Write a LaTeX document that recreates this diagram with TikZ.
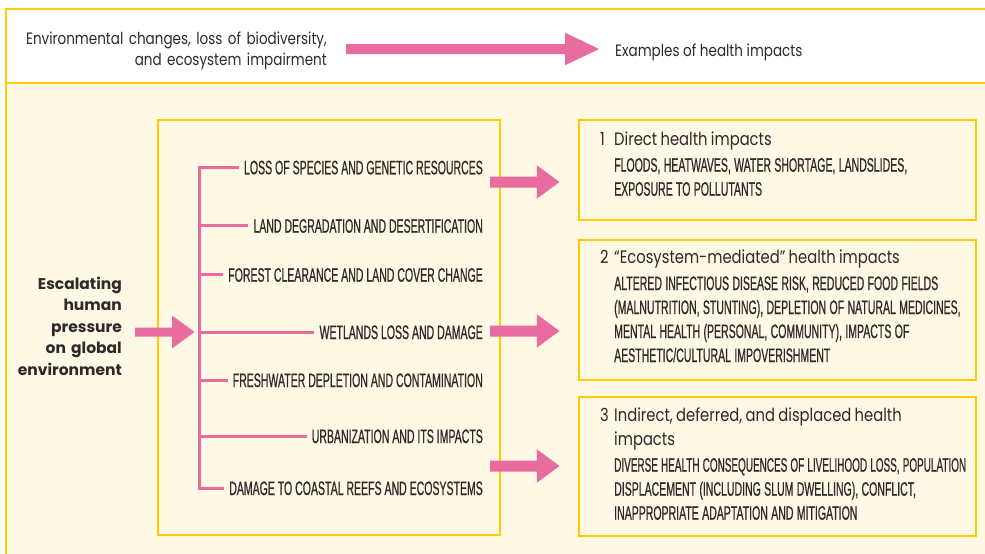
\documentclass[tikz,border=0pt]{standalone}
\usepackage{fontspec}
\setmainfont{Poppins}
\newfontfamily\capsf[FakeStretch=0.54,FakeBold=0.6]{Liberation Sans}
\newfontfamily\titlef[FakeStretch=0.82]{Poppins}
\newfontfamily\boldf[FakeStretch=1.0]{Poppins}
\usetikzlibrary{calc}
\definecolor{ybord}{RGB}{255,204,0}
\definecolor{cream}{RGB}{255,248,228}
\definecolor{pinkc}{RGB}{233,108,160}
\definecolor{txt}{RGB}{45,42,42}
\tikzset{
  frame/.style={draw=ybord, line width=2.2pt},
  hbox/.style={frame, fill=cream, anchor=north west, inner sep=0pt},
  branch/.style={draw=pinkc, line width=3pt},
  item/.style={anchor=east, inner xsep=5pt, inner ysep=0pt, text height=14pt, text depth=0pt,
    text=txt, font=\capsf\fontsize{19.5}{24}\selectfont},
  num/.style={anchor=base west, inner sep=0pt, text=txt, font=\titlef\fontsize{18}{23.3}\selectfont},
  content/.style={anchor=base west, inner sep=0pt, text width=440pt, align=left, text=txt},
  fatarrow/.style n args={3}{to path={let \p1=(\tikztostart), \p2=(\tikztotarget) in
    (\x1,{\y1+#1pt}) -- ({\x2-#2pt},{\y1+#1pt}) -- ({\x2-#2pt},{\y1+#3pt}) -- (\x2,\y1)
    -- ({\x2-#2pt},{\y1-#3pt}) -- ({\x2-#2pt},{\y1-#1pt}) -- (\x1,{\y1-#1pt}) -- cycle}}
}
\newcommand{\ttl}{\titlef\fontsize{18}{23.3}\selectfont}
\newcommand{\cps}{\capsf\fontsize{19.5}{24}\selectfont}
\begin{document}
\begin{tikzpicture}[x=1pt,y=-1pt]
\useasboundingbox (0,0) rectangle (985,554);
% panels
\draw[frame, fill=cream] (6,83) rectangle (995,570);
\draw[frame, fill=white] (6,9) rectangle (995,83);
% top legend
\node[anchor=base east, inner sep=0pt, text width=330pt, align=right, text=txt,
  font=\titlef\fontsize{16.5}{21}\selectfont] (envtext) at (327,44.3)
  {Environmental changes, loss of biodiversity,\\and ecosystem impairment};
\node[anchor=base west, inner sep=0pt, text=txt, font=\titlef\fontsize{16.5}{21}\selectfont]
  (examples) at (615,56) {Examples of health impacts};
\coordinate (topA) at (346,49);
\coordinate (topB) at (599,49);
\fill[pinkc] (topA) to[fatarrow={5}{34}{16.3}] (topB);
% middle box
\node[hbox, minimum width=342pt, minimum height=415pt] (mid) at (157,119) {};
\coordinate (spine) at (199,0);
\node[item] (i1) at (488,167.3) {LOSS OF SPECIES AND GENETIC RESOURCES};
\node[item] (i2) at (488,225.7) {LAND DEGRADATION AND DESERTIFICATION};
\node[item] (i3) at (488,274.7) {FOREST CLEARANCE AND LAND COVER CHANGE};
\node[item] (i4) at (488,332) {WETLANDS LOSS AND DAMAGE};
\node[item] (i5) at (488,380) {FRESHWATER DEPLETION AND CONTAMINATION};
\node[item] (i6) at (488,436) {URBANIZATION AND ITS IMPACTS};
\node[item] (i7) at (488,488) {DAMAGE TO COASTAL REEFS AND ECOSYSTEMS};
\draw[branch] (i1.west) -- (spine |- i1.west) -- (spine |- i7.west) -- (i7.west);
\foreach \k in {2,...,6} \draw[branch] (spine |- i\k.west) -- (i\k.west);
% left label
\node[anchor=base east, inner sep=0pt, text width=120pt, align=right, text=txt,
  font=\boldf\bfseries\fontsize{15.5}{21.5}\selectfont] (press) at (122,289)
  {Escalating\\human\\pressure\\on global\\environment};
\coordinate (leftA) at (135,332);
\coordinate (leftB) at (194.5,332);
\fill[pinkc] (leftA) to[fatarrow={4.5}{22.5}{16.5}] (leftB);
% right boxes
\node[hbox, minimum width=397pt, minimum height=100pt] (b1) at (578,119) {};
\node[hbox, minimum width=397pt, minimum height=140pt] (b2) at (578,239) {};
\node[hbox, minimum width=397pt, minimum height=139pt] (b3) at (578,396) {};
\node[num] (n1) at (600,145) {1};
\node[num] (n2) at (600,263.3) {2};
\node[num] (n3) at (600,421.7) {3};
\node[content] (t1) at (614,145) {{\ttl Direct health impacts\par}\vspace{2.7pt}%
  {\cps FLOODS, HEATWAVES, WATER SHORTAGE, LANDSLIDES,\\EXPOSURE TO POLLUTANTS\par}};
\node[content] (t2) at (614,263.3) {{\ttl “Ecosystem-mediated” health impacts\par}\vspace{2.7pt}%
  {\cps ALTERED INFECTIOUS DISEASE RISK, REDUCED FOOD FIELDS\\(MALNUTRITION, STUNTING), DEPLETION OF NATURAL MEDICINES,\\MENTAL HEALTH (PERSONAL, COMMUNITY), IMPACTS OF\\AESTHETIC/CULTURAL IMPOVERISHMENT\par}};
\node[content] (t3) at (614,421.7) {{\ttl Indirect, deferred, and displaced health\\impacts\par}\vspace{2.7pt}%
  {\cps \scalebox{0.945}[1]{DIVERSE HEALTH CONSEQUENCES OF LIVELIHOOD LOSS, POPULATION}\\DISPLACEMENT (INCLUDING SLUM DWELLING), CONFLICT,\\INAPPROPRIATE ADAPTATION AND MITIGATION\par}};
% right arrows
\coordinate (r1A) at (490,182);   \coordinate (r1B) at (559.5,182);
\coordinate (r2A) at (490,331);   \coordinate (r2B) at (559.5,331);
\coordinate (r3A) at (490,466);   \coordinate (r3B) at (559.5,466);
\fill[pinkc] (r1A) to[fatarrow={5.5}{22.7}{16.7}] (r1B);
\fill[pinkc] (r2A) to[fatarrow={5.5}{22.7}{16.7}] (r2B);
\fill[pinkc] (r3A) to[fatarrow={5.5}{22.7}{16.7}] (r3B);
\end{tikzpicture}
\end{document}
